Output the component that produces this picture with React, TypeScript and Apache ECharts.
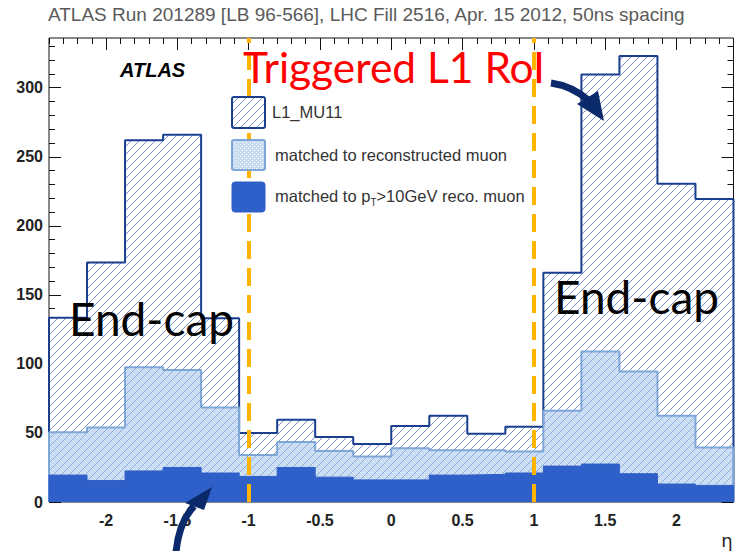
import React, { useEffect, useRef } from "react";
import * as echarts from "echarts";

// ---- data ----
const ETA_MIN = -2.4;
const ETA_MAX = 2.4;
const l1Counts = [133.5, 173.5, 262, 266, 133, 50, 59.5, 47, 42, 55, 62.5, 49.5, 54.5, 166, 309.5, 323, 230.5, 219.5];
const recoCounts = [50.5, 54, 97.5, 95.5, 68.5, 34, 43.5, 37, 33, 39, 37.5, 37.5, 36.5, 66, 109, 94.5, 62.5, 39.5];
const pt10Counts = [19.5, 15.5, 22.5, 25, 21, 18.5, 25, 18, 16, 16, 19.5, 20, 21, 26, 27.5, 20.5, 13, 12];
const xMajorTicks = [-2, -1.5, -1, -0.5, 0, 0.5, 1, 1.5, 2];
const yMajorTicks = [0, 50, 100, 150, 200, 250, 300];
const trigEdges = [-1, 1];
const Y_MAX = 336;

const titleText = "ATLAS Run 201289 [LB 96-566], LHC Fill 2516, Apr. 15 2012, 50ns spacing";
const legendLabels = ["L1_MU11", "matched to reconstructed muon"];

function stepData(counts: number[]) {
  const w = (ETA_MAX - ETA_MIN) / counts.length;
  const pts: number[][] = [[ETA_MIN, 0]];
  counts.forEach((c, i) => pts.push([ETA_MIN + i * w, c]));
  pts.push([ETA_MAX, counts[counts.length - 1]]);
  pts.push([ETA_MAX, 0]);
  return pts;
}

function range(a: number, b: number, step: number) {
  const out: number[] = [];
  const n = Math.round((b - a) / step);
  for (let i = 0; i <= n; i++) out.push(Math.round((a + i * step) * 1000) / 1000);
  return out;
}

function hatchCanvas(bg: string | null, line: string, size = 8, lw = 1) {
  const c = document.createElement("canvas");
  c.width = size;
  c.height = size;
  const g = c.getContext("2d")!;
  if (bg) {
    g.fillStyle = bg;
    g.fillRect(0, 0, size, size);
  }
  g.strokeStyle = line;
  g.lineWidth = lw;
  g.beginPath();
  g.moveTo(-1, size + 1);
  g.lineTo(size + 1, -1);
  g.moveTo(-1, 1);
  g.lineTo(1, -1);
  g.moveTo(size - 1, size + 1);
  g.lineTo(size + 1, size - 1);
  g.stroke();
  return c;
}

function dotCanvas(bg: string, dot: string) {
  const c = document.createElement("canvas");
  c.width = 4;
  c.height = 4;
  const g = c.getContext("2d")!;
  g.fillStyle = bg;
  g.fillRect(0, 0, 4, 4);
  g.fillStyle = dot;
  g.fillRect(0, 0, 1, 1);
  g.fillRect(2, 2, 1, 1);
  return c;
}

function pattern(c: HTMLCanvasElement) {
  return { image: c, repeat: "repeat", imageWidth: c.width, imageHeight: c.height } as any;
}

export default function App() {
  const ref = useRef<HTMLDivElement>(null);
  useEffect(() => {
    if (!ref.current) return;
    const chart = echarts.init(ref.current, undefined, { renderer: "svg" });

    const hatch = pattern(hatchCanvas("#ffffff", "#7890c8", 8, 1));
    const recoFill = pattern(dotCanvas("rgba(160,195,235,0.58)", "rgba(255,255,255,0.45)"));
    const legendHatch = pattern(hatchCanvas("#ffffff", "#7890c8", 8, 1));
    const legendReco = pattern(dotCanvas("#c8dbf1", "#ffffff"));

    const xMinor = range(ETA_MIN, ETA_MAX, 0.1);
    const yMinor = range(0, 330, 10);

    const labelFont = {
      fontFamily: "Liberation Sans",
      fontWeight: "bold",
      fontSize: 16,
      color: "#222",
    };

    const xAxisBase = {
      type: "value",
      min: ETA_MIN,
      max: ETA_MAX,
      gridIndex: 0,
      axisLine: { show: false, onZero: false },
      splitLine: { show: false },
    };
    const yAxisBase = {
      type: "value",
      min: 0,
      max: Y_MAX,
      gridIndex: 0,
      axisLine: { show: false, onZero: false },
      splitLine: { show: false },
    };
    const tickStyle = { color: "#111", width: 1 };

    const option: any = {
      animation: false,
      backgroundColor: "#ffffff",
      grid: {
        left: 49,
        right: 10.5,
        top: 38,
        bottom: 49,
        show: true,
        borderColor: "#111",
        borderWidth: 1,
        backgroundColor: "#ffffff",
      },
      xAxis: [
        {
          ...xAxisBase,
          position: "bottom",
          axisTick: { show: true, inside: true, length: 12, customValues: xMajorTicks, lineStyle: tickStyle },
          axisLabel: { show: true, customValues: xMajorTicks, margin: 10, ...labelFont },
        },
        {
          ...xAxisBase,
          position: "bottom",
          axisTick: { show: true, inside: true, length: 6, customValues: xMinor, lineStyle: tickStyle },
          axisLabel: { show: false },
        },
        {
          ...xAxisBase,
          position: "top",
          axisTick: { show: true, inside: true, length: 12, customValues: xMajorTicks, lineStyle: tickStyle },
          axisLabel: { show: false },
        },
        {
          ...xAxisBase,
          position: "top",
          axisTick: { show: true, inside: true, length: 6, customValues: xMinor, lineStyle: tickStyle },
          axisLabel: { show: false },
        },
      ],
      yAxis: [
        {
          ...yAxisBase,
          position: "left",
          axisTick: { show: true, inside: true, length: 12, customValues: yMajorTicks, lineStyle: tickStyle },
          axisLabel: { show: true, customValues: yMajorTicks, margin: 6, ...labelFont },
        },
        {
          ...yAxisBase,
          position: "left",
          axisTick: { show: true, inside: true, length: 6, customValues: yMinor, lineStyle: tickStyle },
          axisLabel: { show: false },
        },
        {
          ...yAxisBase,
          position: "right",
          axisTick: { show: true, inside: true, length: 12, customValues: yMajorTicks, lineStyle: tickStyle },
          axisLabel: { show: false },
        },
        {
          ...yAxisBase,
          position: "right",
          axisTick: { show: true, inside: true, length: 6, customValues: yMinor, lineStyle: tickStyle },
          axisLabel: { show: false },
        },
      ],
      series: [
        {
          name: "L1_MU11",
          type: "line",
          step: "end",
          xAxisIndex: 0,
          yAxisIndex: 0,
          symbol: "none",
          data: stepData(l1Counts),
          lineStyle: { color: "#1b3f8f", width: 2 },
          areaStyle: { color: hatch, opacity: 1 },
          z: 2,
        },
        {
          name: "matched to reconstructed muon",
          type: "line",
          step: "end",
          xAxisIndex: 0,
          yAxisIndex: 0,
          symbol: "none",
          data: stepData(recoCounts),
          lineStyle: { color: "#7ea6d6", width: 2 },
          areaStyle: { color: recoFill, opacity: 1 },
          z: 3,
        },
        {
          name: "matched to pT>10GeV reco. muon",
          type: "line",
          step: "end",
          xAxisIndex: 0,
          yAxisIndex: 0,
          symbol: "none",
          data: stepData(pt10Counts),
          lineStyle: { color: "#2f5fc8", width: 1 },
          areaStyle: { color: "#2f5fc8", opacity: 1 },
          z: 4,
          markLine: {
            silent: true,
            symbol: ["none", "none"],
            label: { show: false },
            lineStyle: { color: "#FFB400", width: 4, type: [18, 9] },
            data: trigEdges.map((v) => ({ xAxis: v })),
          },
        },
      ],
      graphic: [
        {
          type: "text",
          left: 48,
          top: 5,
          style: { text: titleText, fontFamily: "Liberation Sans", fontSize: 19, fill: "#5a5a5a" },
          z: 10,
        },
        {
          type: "text",
          x: 120,
          y: 70,
          style: {
            text: "ATLAS",
            fontFamily: "Liberation Sans",
            fontWeight: "bold",
            fontStyle: "italic",
            fontSize: 20,
            fill: "#000",
            verticalAlign: "middle",
          },
          z: 10,
        },
        {
          type: "text",
          x: 243,
          y: 66,
          style: {
            text: "Triggered L1 RoI",
            fontFamily: "Lato",
            fontSize: 42.5,
            fill: "#ff0000",
            verticalAlign: "middle",
          },
          z: 20,
        },
        {
          type: "text",
          x: 69,
          y: 318,
          style: { text: "End-cap", fontFamily: "Lato", fontSize: 46, fill: "#000", verticalAlign: "middle" },
          z: 20,
        },
        {
          type: "text",
          x: 554,
          y: 296,
          style: { text: "End-cap", fontFamily: "Lato", fontSize: 46, fill: "#000", verticalAlign: "middle" },
          z: 20,
        },
        // legend
        {
          type: "rect",
          shape: { x: 232, y: 97, width: 33, height: 31, r: 2 },
          style: { fill: legendHatch, stroke: "#1b3f8f", lineWidth: 2 },
          z: 10,
        },
        {
          type: "rect",
          shape: { x: 232, y: 140, width: 33, height: 30, r: 2 },
          style: { fill: legendReco, stroke: "#7ea6d6", lineWidth: 2 },
          z: 10,
        },
        {
          type: "rect",
          shape: { x: 232, y: 182, width: 33, height: 30, r: 3 },
          style: { fill: "#2f5fc8", stroke: "#2f5fc8", lineWidth: 1 },
          z: 10,
        },
        {
          type: "text",
          x: 272,
          y: 112,
          style: {
            text: legendLabels[0],
            fontFamily: "Liberation Sans",
            fontSize: 16.5,
            fill: "#333",
            verticalAlign: "middle",
          },
          z: 10,
        },
        {
          type: "text",
          x: 275,
          y: 155,
          style: {
            text: legendLabels[1],
            fontFamily: "Liberation Sans",
            fontSize: 16.5,
            fill: "#333",
            verticalAlign: "middle",
          },
          z: 10,
        },
        {
          type: "text",
          x: 275,
          y: 196,
          style: {
            text: "{a|matched to p}{s|T}{a|>10GeV reco. muon}",
            verticalAlign: "middle",
            rich: {
              a: { fontFamily: "Liberation Sans", fontSize: 16.5, fill: "#333", lineHeight: 22 },
              s: {
                fontFamily: "Liberation Sans",
                fontSize: 10,
                fill: "#333",
                lineHeight: 10,
                verticalAlign: "bottom",
              },
            },
          },
          z: 10,
        },
        // eta label
        {
          type: "text",
          x: 727,
          y: 540,
          style: {
            text: "η",
            fontFamily: "DejaVu Sans",
            fontSize: 18,
            fill: "#222",
            align: "center",
            verticalAlign: "middle",
          },
          z: 10,
        },
        // arrows
        {
          type: "bezierCurve",
          shape: { x1: 551, y1: 83, x2: 588, y2: 100, cpx1: 572, cpy1: 86 },
          style: { stroke: "#0b2a6b", lineWidth: 7, fill: "none" },
          z: 30,
        },
        {
          type: "polygon",
          shape: { points: [[577, 104], [598, 91], [604, 121]] },
          style: { fill: "#0b2a6b" },
          z: 30,
        },
        {
          type: "bezierCurve",
          shape: { x1: 176, y1: 552, x2: 194, y2: 506, cpx1: 179, cpy1: 522 },
          style: { stroke: "#0b2a6b", lineWidth: 7, fill: "none" },
          z: 30,
        },
        {
          type: "polygon",
          shape: { points: [[185, 503], [204, 510], [212, 487]] },
          style: { fill: "#0b2a6b" },
          z: 30,
        },
      ],
    };

    chart.setOption(option);
    return () => chart.dispose();
  }, []);

  return (
    <div
      ref={ref}
      style={{ position: "fixed", left: 0, top: 0, width: 744, height: 551, background: "#fff" }}
    />
  );
}
